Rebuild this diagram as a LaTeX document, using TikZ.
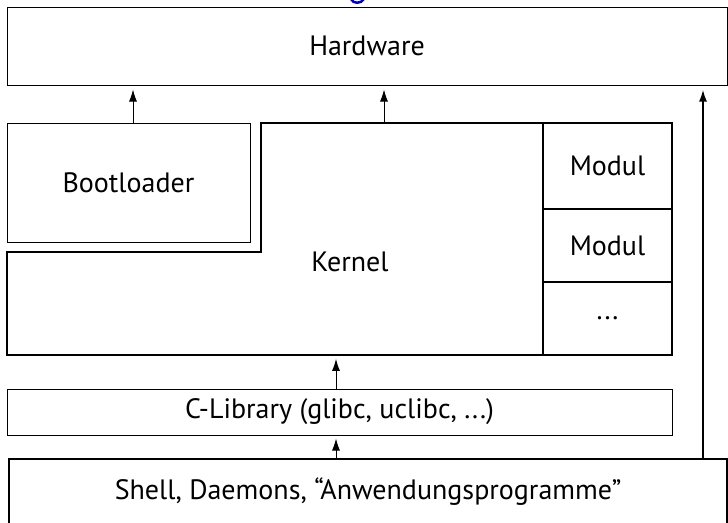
\documentclass[tikz,border=0pt]{standalone}
\usepackage{fontspec}
\setmainfont{PT Sans}
\usetikzlibrary{arrows.meta}

\begin{document}
\begin{tikzpicture}[x=1pt,y=-1pt,
	box_node/.style={rectangle,draw,line width=1pt,inner sep=0pt,font=\fontsize{28}{33}\selectfont},
	up_arrow/.style={-{Latex[length=12pt,width=8pt]},line width=1pt,shorten >=4pt}]
		
		\useasboundingbox (0,0) rectangle (728,522);
		\draw[blue!75!black,line width=2.5pt] (351,-1) .. controls (353,4) and (361,4) .. (364,-1);
		
		\node[box_node,minimum width=720pt,minimum height=78pt] (hw) at (367,46) {Hardware};
		\node[box_node,minimum width=243pt,minimum height=119pt] (boot) at (128.5,182.5) {Bootloader};
		\node[box_node,line width=1.6pt,minimum width=129pt,minimum height=86pt] (mod1) at (607.5,166) {Modul};
		\node[box_node,line width=1.6pt,minimum width=129pt,minimum height=73pt] (mod2) at (607.5,245.5) {Modul};
		\node[box_node,line width=1.6pt,minimum width=129pt,minimum height=73pt] (mod3) at (607.5,318.5) {...};
		\draw[line width=2pt] (261,123) -- (672,123) -- (672,355) -- (7,355) -- (7,252) -- (261,252) -- cycle;
		\node[font=\fontsize{28}{33}\selectfont] (kernel) at (350,262) {Kernel};
		\node[box_node,minimum width=665pt,minimum height=46pt] (clib) at (339.5,412) {C-Library (glibc, uclibc, ...)};
		\node[box_node,line width=1.5pt,minimum width=718pt,minimum height=66pt] (shell) at (368,492) {Shell, Daemons, ``Anwendungsprogramme''};
		
		\coordinate (kernel_top) at (384,123);
		\coordinate (side) at (703,459);

		\draw[up_arrow] ([xshift=4.5pt]boot.north) -- ([xshift=4.5pt]boot.north |- hw.south);
		\draw[up_arrow] (kernel_top) -- (kernel_top |- hw.south);
		\draw[up_arrow,shorten >=3pt] ([xshift=-3.5pt]clib.north) -- ([xshift=-3.5pt]clib.north |- mod3.south);
		\draw[up_arrow,shorten >=3pt] (shell.north -| kernel_top) ++(-48,0) -- ([xshift=-3.5pt]clib.south);
		\draw[up_arrow,line width=2pt] (side) -- (side |- hw.south);
		\end{tikzpicture}
\end{document}
